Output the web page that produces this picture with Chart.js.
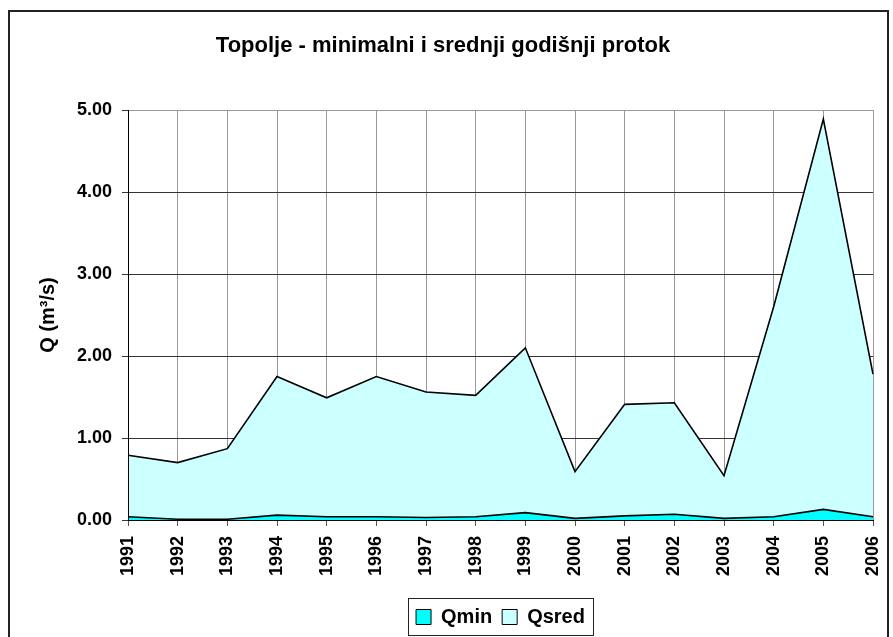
<!DOCTYPE html>
<html>
<head>
<meta charset="utf-8">
<script src="https://cdn.jsdelivr.net/npm/chart.js@4.4.1/dist/chart.umd.min.js"></script>
<style>
  html, body { margin: 0; padding: 0; background: #fff; }
  #wrap { width: 893px; height: 637px; }
</style>
</head>
<body>
<div id="wrap"><canvas id="c" width="893" height="637"></canvas></div>
<script>
  // ── Data ──────────────────────────────────────────────────────────
  var YEARS = ['1991', '1992', '1993', '1994', '1995', '1996', '1997', '1998',
               '1999', '2000', '2001', '2002', '2003', '2004', '2005', '2006'];
  var QMIN  = [0.04, 0.01, 0.01, 0.06, 0.04, 0.04, 0.03, 0.04,
               0.09, 0.02, 0.05, 0.07, 0.02, 0.04, 0.13, 0.04];
  var QSRED = [0.79, 0.70, 0.87, 1.75, 1.49, 1.75, 1.56, 1.52,
               2.10, 0.59, 1.41, 1.43, 0.54, 2.60, 4.89, 1.78];
  var Y_TICKS = [0, 1, 2, 3, 4, 5];

  var FONT = "'Liberation Sans', Arial, sans-serif";

  // ── Outer frame, axis lines and legend border ─────────────────────
  var framePlugin = {
    id: 'frame',
    beforeDraw: function (chart) {
      var ctx = chart.ctx;
      ctx.save();
      ctx.fillStyle = '#fff';
      ctx.fillRect(0, 0, chart.width, chart.height);
      ctx.strokeStyle = '#222';
      ctx.lineWidth = 2;
      ctx.strokeRect(9, 11, chart.width - 14, chart.height + 20);
      ctx.restore();
    },
    afterDatasetsDraw: function (chart) {
      var a = chart.chartArea;
      var ctx = chart.ctx;
      ctx.save();
      ctx.strokeStyle = '#000';
      ctx.lineWidth = 1;
      ctx.beginPath();
      ctx.moveTo(a.left + 0.5, a.top);
      ctx.lineTo(a.left + 0.5, a.bottom + 0.5);
      ctx.lineTo(a.right, a.bottom + 0.5);
      ctx.stroke();
      ctx.restore();
    },
    afterDraw: function (chart) {
      var boxes = chart.legend && chart.legend.legendHitBoxes;
      if (!boxes || !boxes.length) return;
      var first = boxes[0], last = boxes[boxes.length - 1];
      var cy = first.top + first.height / 2;
      var ctx = chart.ctx;
      ctx.save();
      ctx.strokeStyle = '#222';
      ctx.lineWidth = 1;
      ctx.strokeRect(Math.round(first.left - 8) + 0.5, Math.round(cy - 19) + 0.5,
                     Math.round(last.left + last.width - first.left + 16), 37);
      ctx.restore();
    }
  };

  new Chart(document.getElementById('c'), {
    type: 'line',
    data: {
      labels: YEARS,
      datasets: [
        {
          label: 'Qmin',
          data: QMIN,
          borderColor: '#000',
          backgroundColor: '#00FFFF',
          borderWidth: 1.6,
          pointRadius: 0,
          tension: 0,
          fill: 'origin'
        },
        {
          label: 'Qsred',
          data: QSRED,
          borderColor: '#000',
          backgroundColor: '#CCFFFF',
          borderWidth: 1.6,
          pointRadius: 0,
          tension: 0,
          fill: 'origin'
        }
      ]
    },
    options: {
      responsive: false,
      animation: false,
      layout: { padding: { left: 13, right: 20, top: 0, bottom: 0 } },
      plugins: {
        title: {
          display: true,
          text: 'Topolje - minimalni i srednji godišnji protok',
          color: '#000',
          font: { family: FONT, size: 22, weight: 'bold' },
          padding: { top: 33, bottom: 50.6 }
        },
        legend: {
          position: 'bottom',
          fullSize: false,
          labels: {
            color: '#000',
            font: { family: FONT, size: 20, weight: 'bold' },
            boxWidth: 15,
            boxHeight: 15,
            padding: 10,
            generateLabels: function (chart) {
              var items = Chart.defaults.plugins.legend.labels.generateLabels(chart);
              items.forEach(function (it) { it.lineWidth = 1; });
              return items;
            }
          }
        },
        tooltip: { enabled: false }
      },
      scales: {
        x: {
          offset: false,
          afterFit: function (s) {
            s.height = 77;
            s.paddingLeft = 0;
            s.paddingRight = 0;
          },
          ticks: {
            color: '#000',
            autoSkip: false,
            minRotation: 90,
            maxRotation: 90,
            padding: 10,
            font: { family: FONT, size: 18, weight: 'bold' }
          },
          grid: { color: '#999', tickColor: '#555', tickLength: 6 },
          border: { color: '#000' }
        },
        y: {
          min: 0,
          max: 5,
          afterFit: function (s) {
            s.width = 115;
            s.paddingTop = 0;
            s.paddingBottom = 0;
          },
          afterBuildTicks: function (s) {
            s.ticks = Y_TICKS.map(function (v) { return { value: v }; });
          },
          ticks: {
            color: '#000',
            padding: 10,
            font: { family: FONT, size: 18, weight: 'bold' },
            callback: function (v) { return Number(v).toFixed(2); }
          },
          grid: {
            color: function (c) { return c.tick && c.tick.value === 5 ? '#999' : '#333'; },
            tickColor: '#333',
            tickLength: 6
          },
          border: { color: '#000' },
          title: {
            display: true,
            text: 'Q (m³/s)',
            color: '#000',
            font: { family: FONT, size: 20, weight: 'bold' },
            padding: { top: 23, bottom: 0 }
          }
        }
      }
    },
    plugins: [framePlugin]
  });
</script>
</body>
</html>
